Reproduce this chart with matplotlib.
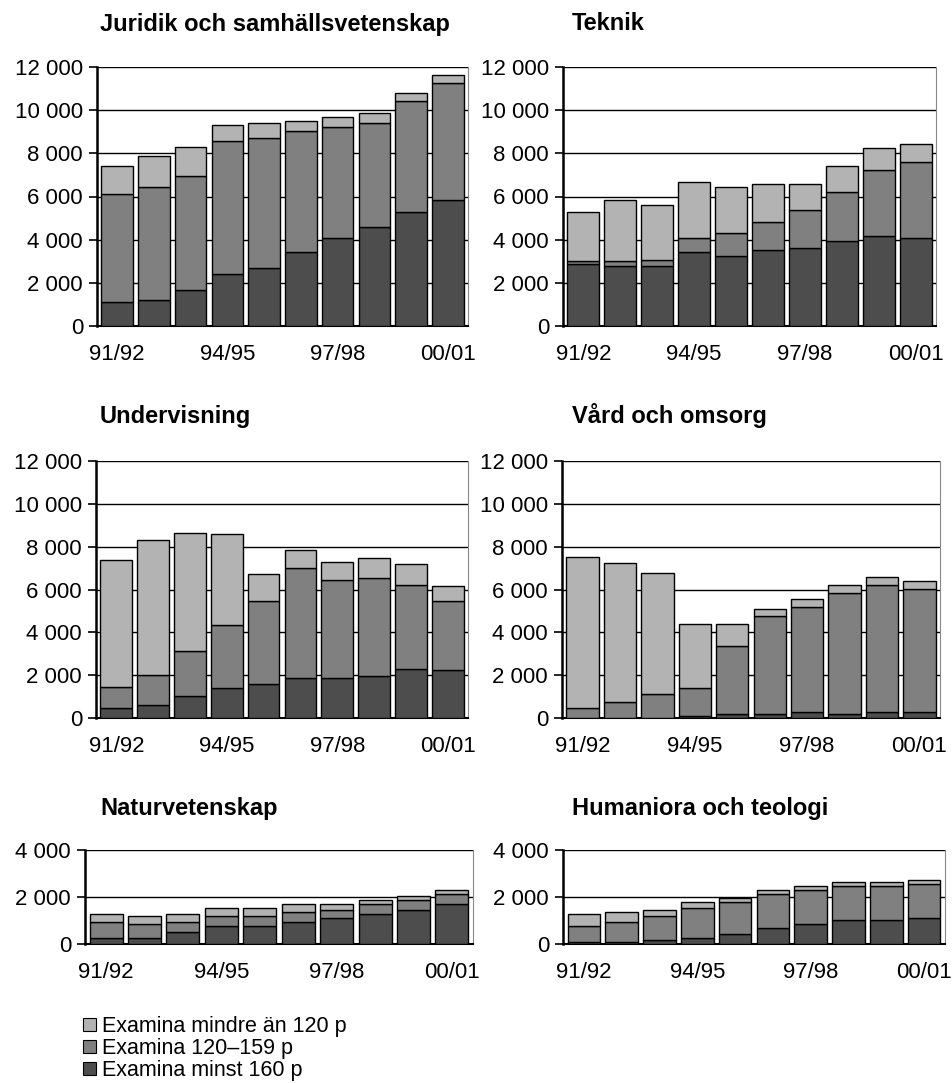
import matplotlib
matplotlib.use("Agg")
from matplotlib import pyplot as plt
from matplotlib.patches import Patch
from matplotlib.ticker import FuncFormatter

plt.rcParams['font.family'] = ['Liberation Sans', 'DejaVu Sans']

years = ["91/92", "92/93", "93/94", "94/95", "95/96", "96/97", "97/98", "98/99", "99/00", "00/01"]
shown_years = ["91/92", "94/95", "97/98", "00/01"]

# per panel: minst 160 p, 120-159 p, mindre an 120 p
jur_160 = [1110, 1220, 1690, 2410, 2690, 3450, 4070, 4570, 5290, 5850]
jur_120 = [5020, 5200, 5280, 6150, 6040, 5570, 5130, 4830, 5130, 5400]
jur_lt = [1300, 1470, 1310, 740, 670, 470, 470, 460, 370, 380]

tek_160 = [2880, 2800, 2800, 3450, 3250, 3530, 3620, 3920, 4180, 4090]
tek_120 = [110, 190, 280, 640, 1040, 1300, 1770, 2300, 3060, 3530]
tek_lt = [2300, 2860, 2510, 2600, 2130, 1760, 1200, 1210, 1030, 830]

und_160 = [450, 620, 1010, 1380, 1580, 1850, 1850, 1940, 2310, 2220]
und_120 = [1010, 1410, 2140, 2980, 3900, 5140, 4580, 4580, 3920, 3260]
und_lt = [5900, 6260, 5510, 4210, 1230, 840, 840, 930, 940, 670]

vard_160 = [20, 20, 20, 80, 170, 170, 260, 170, 260, 260]
vard_120 = [430, 710, 1080, 1300, 3170, 4570, 4940, 5680, 5970, 5780]
vard_lt = [7080, 6520, 5690, 3000, 1040, 370, 370, 380, 370, 370]

nat_160 = [260, 260, 510, 770, 770, 940, 1110, 1280, 1450, 1710]
nat_120 = [680, 590, 430, 430, 430, 430, 340, 430, 430, 430]
nat_lt = [340, 350, 340, 340, 340, 340, 260, 170, 170, 170]

hum_160 = [90, 90, 170, 260, 430, 680, 850, 1020, 1020, 1110]
hum_120 = [680, 850, 1030, 1280, 1360, 1460, 1460, 1460, 1460, 1450]
hum_lt = [510, 430, 250, 250, 170, 170, 170, 170, 170, 170]

titles = ["Juridik och samhällsvetenskap", "Teknik", "Undervisning",
          "Vård och omsorg", "Naturvetenskap", "Humaniora och teologi"]
panels = [(jur_160, jur_120, jur_lt), (tek_160, tek_120, tek_lt),
          (und_160, und_120, und_lt), (vard_160, vard_120, vard_lt),
          (nat_160, nat_120, nat_lt), (hum_160, hum_120, hum_lt)]
labels = ["Examina mindre än 120 p", "Examina 120–159 p", "Examina minst 160 p"]
colors = ["#b3b3b3", "#808080", "#4d4d4d"]  # light, mid, dark

W, H = 953, 1083
fig = plt.figure(figsize=(W / 100, H / 100), dpi=100)

# axes boxes in pixels: left, top, right, bottom
boxes = [(97, 67, 468, 326), (563, 67, 936, 326),
         (96, 461, 468, 718), (562, 461, 940, 718),
         (85, 850, 473, 944), (563, 850, 945, 944)]
ymax = [12000, 12000, 12000, 12000, 4000, 4000]
title_x = [100, 572, 100, 572, 100, 572]
title_y = [24, 24, 416, 416, 808, 808]

fmt = FuncFormatter(lambda v, p: f"{int(v):,}".replace(",", " "))
x = list(range(len(years)))

for i, (l, t, r, b) in enumerate(boxes):
    ax = fig.add_axes([l / W, 1 - b / H, (r - l) / W, (b - t) / H])
    d160, d120, dlt = panels[i]
    bottom2 = [a + c for a, c in zip(d160, d120)]
    kw = dict(width=0.86, edgecolor="black", linewidth=1.0, zorder=3)
    ax.bar(x, d160, color=colors[2], **kw)
    ax.bar(x, d120, bottom=d160, color=colors[1], **kw)
    ax.bar(x, dlt, bottom=bottom2, color=colors[0], **kw)

    ax.set_xlim(-0.55, len(years) - 0.45)
    ax.set_ylim(0, ymax[i])
    ax.set_yticks(range(0, ymax[i] + 1, 2000))
    ax.yaxis.set_major_formatter(fmt)
    ax.grid(axis="y", color="black", linewidth=1.0, zorder=0)
    ax.set_xticks([years.index(s) for s in shown_years])
    ax.set_xticklabels(shown_years)
    ax.tick_params(axis="x", length=0, pad=13, labelsize=16)
    ax.tick_params(axis="y", length=6, width=1.2, pad=4, labelsize=16)
    ax.spines["top"].set_visible(False)
    ax.spines["right"].set_color("#888888")
    ax.spines["left"].set_linewidth(1.8)
    ax.spines["bottom"].set_linewidth(1.5)

    fig.text(title_x[i] / W, 1 - title_y[i] / H, titles[i], fontsize=17,
             fontweight="bold", ha="left", va="center")

handles = [Patch(facecolor=c, edgecolor="black", linewidth=0.8) for c in colors]
fig.legend(handles, labels, loc="upper left", bbox_to_anchor=(83 / W, 1 - 1016 / H),
           frameon=False, fontsize=15.5, handlelength=0.6, handleheight=0.6,
           handletextpad=0.3, labelspacing=0.05, borderpad=0, borderaxespad=0)

fig.savefig("out.png", dpi=100)
